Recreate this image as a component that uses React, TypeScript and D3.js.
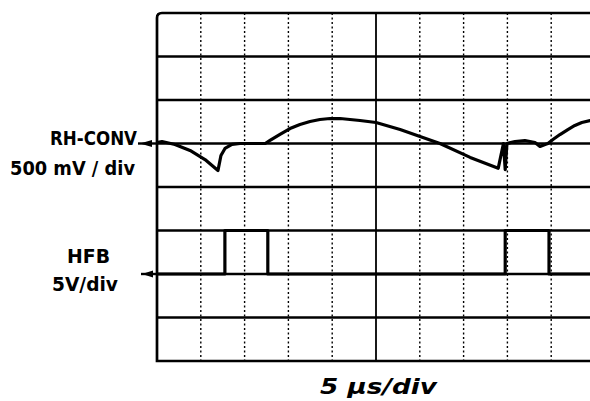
import React from "react";
import * as d3 from "d3";

// RH-CONV trace, time in microseconds and level in millivolts
const rhTimeUs = [0, 0.57, 2.05, 3.77, 5.48, 6.96, 7.3, 7.76, 8.56, 9.47, 12.35, 12.9, 14.04, 15.18, 16.32, 17.47, 18.6, 19.75, 20.9, 22.03, 23.17, 25, 27.75, 30.35, 32.3, 35.75, 38.95, 39.55, 39.75, 39.95, 40.87, 42.0, 43.15, 43.72, 44.3, 44.63, 45.2, 46, 46.9, 47.7, 48.5, 49.43, 50];
const rhMilliVolts = [11, 23, -11, -80, -184, -310, -138, -57, -11, 0, 0, 35, 105, 172, 218, 253, 276, 287, 287, 276, 264, 241, 160, 70, 0, -160, -285, 0, -300, 0, 23, 34, 11, -34, -11, 0, 46, 103, 160, 207, 241, 264, 276];

// HFB pulse trace, time in microseconds and level in volts
const hfbTimeUs = [0, 7.75, 7.75, 12.65, 12.65, 39.75, 39.75, 44.75, 44.75, 50];
const hfbVolts = [0, 0, 5, 5, 0, 0, 5, 5, 0, 0];

const timeDivs = d3.range(0, 11); // 5 us per div
const rowDivs = d3.range(0, 9);

const W = 590;
const H = 401;

export default function App() {
  const left = 157;
  const top = 13;
  const divW = 43.8;
  const divH = 43.5;

  const x = d3.scaleLinear().domain([0, 50]).range([left, left + 10 * divW]);
  // RH zero on 3rd line from top, 500 mV/div
  const yRh = d3.scaleLinear().domain([1500, -2500]).range([top, top + 8 * divH]);
  // HFB zero on 6th line, 5 V/div
  const yHfb = d3.scaleLinear().domain([30, -10]).range([top, top + 8 * divH]);
  const yRow = (i: number) => top + i * divH;

  const rhLine = d3
    .line<number>()
    .x((d, i) => x(rhTimeUs[i]))
    .y((d) => yRh(d));

  const hfbLine = d3
    .line<number>()
    .x((d, i) => x(hfbTimeUs[i]))
    .y((d) => yHfb(d));

  const bottom = yRow(8);
  const right = x(50);
  const r = 5;
  const border = `M${right},${top} L${left + r},${top} Q${left},${top} ${left},${top + r} L${left},${bottom} L${right},${bottom}`;

  const rhZero = yRh(0);
  const hfbZero = yHfb(0);

  const font = "'DejaVu Sans', sans-serif";

  return (
    <svg width={W} height={H} style={{ position: "absolute", left: 0, top: 0, background: "#fff" }}>
      {/* vertical grid lines */}
      {timeDivs.slice(1, 10).map((d) => (
        <line
          key={"v" + d}
          x1={x(d * 5)}
          x2={x(d * 5)}
          y1={top}
          y2={bottom}
          stroke="#000"
          strokeWidth={d === 5 ? 1.8 : 1.4}
          strokeDasharray={d === 5 ? undefined : "2,2.5"}
        />
      ))}
      {/* horizontal grid lines */}
      {rowDivs.slice(1, 8).map((i) => (
        <line key={"h" + i} x1={left} x2={right} y1={yRow(i)} y2={yRow(i)} stroke="#000" strokeWidth={2.7} />
      ))}
      <path d={border} fill="none" stroke="#000" strokeWidth={2.7} />

      {/* traces */}
      <path d={rhLine(rhMilliVolts) || ""} fill="none" stroke="#000" strokeWidth={3.2} strokeLinejoin="round" />
      <path d={hfbLine(hfbVolts) || ""} fill="none" stroke="#000" strokeWidth={3.2} strokeLinejoin="round" />

      {/* ground markers */}
      <line x1={138} x2={left} y1={rhZero} y2={rhZero} stroke="#000" strokeWidth={2.4} />
      <path d={`M140,${rhZero} L152,${rhZero - 3.5} L152,${rhZero + 3.5} Z`} fill="#000" />
      <line x1={141} x2={left} y1={hfbZero} y2={hfbZero} stroke="#000" strokeWidth={2.4} />
      <path d={`M142,${hfbZero} L153,${hfbZero - 3.5} L153,${hfbZero + 3.5} Z`} fill="#000" />

      {/* labels */}
      <g fontFamily={font} fontWeight="bold" fill="#000">
        <text x={50} y={145} fontSize={19} textLength={87} lengthAdjust="spacingAndGlyphs">RH-CONV</text>
        <text x={10} y={175} fontSize={19} textLength={125} lengthAdjust="spacingAndGlyphs">500 mV / div</text>
        <text x={67} y={263} fontSize={20} textLength={43} lengthAdjust="spacingAndGlyphs">HFB</text>
        <text x={52} y={291} fontSize={20} textLength={66} lengthAdjust="spacingAndGlyphs">5V/div</text>
        <text x={320} y={394} fontSize={22} fontStyle="italic" textLength={117} lengthAdjust="spacingAndGlyphs">5 µs/div</text>
      </g>
    </svg>
  );
}
